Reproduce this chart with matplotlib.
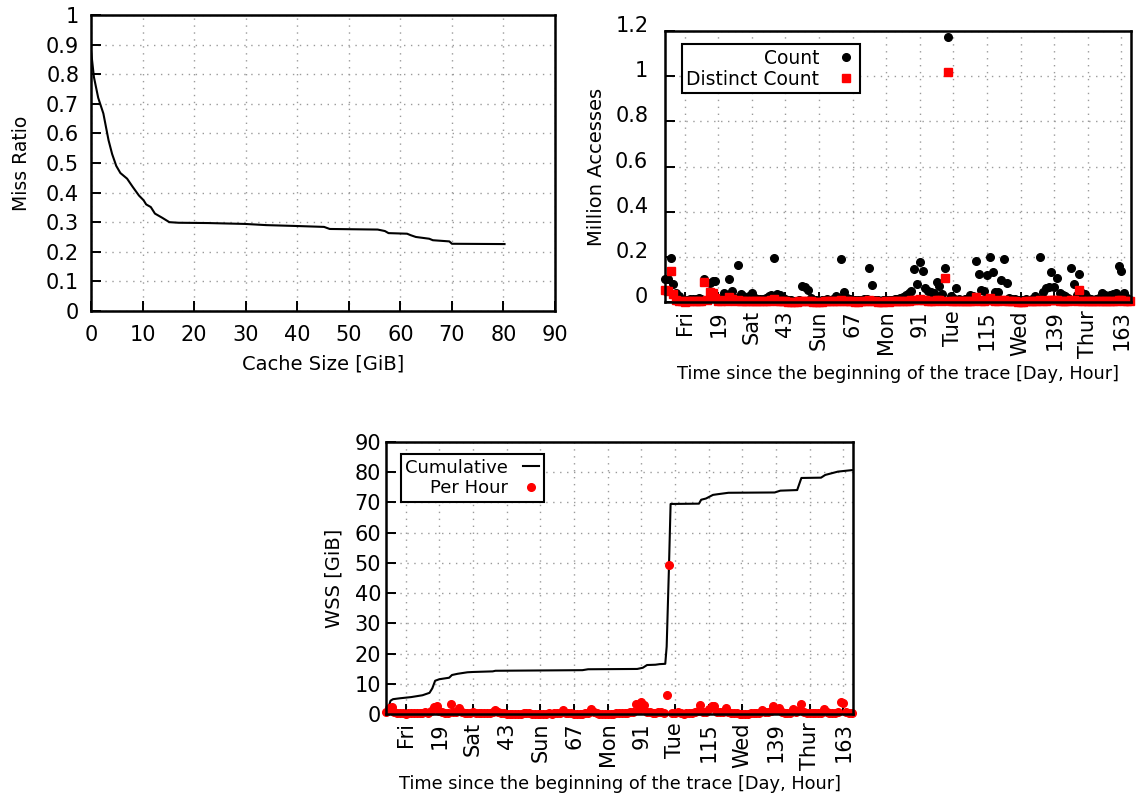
import matplotlib
matplotlib.use("Agg")
import matplotlib.pyplot as plt
from matplotlib.transforms import ScaledTranslation
import numpy as np

plt.rcParams["font.family"] = ["DejaVu Sans"]
plt.rcParams["font.size"] = 14

# --- miss ratio curve (cache size GiB -> miss ratio)
mr_size = [0, 0.57, 1.4, 2.4, 3.4, 4.1, 4.9, 5.7, 7.0, 8.1, 9.3, 10.2, 10.7, 11.6,
           12.4, 13.8, 15.2, 17.0, 22.7, 29.9, 34.0, 39.9, 45.2, 46.3, 55.6, 57.0,
           57.7, 61.3, 62.0, 63.0, 65.6, 66.3, 69.5, 70.0, 80.2]
mr_ratio = [0.88, 0.79, 0.72, 0.667, 0.577, 0.53, 0.49, 0.466, 0.447, 0.419, 0.39,
            0.374, 0.36, 0.351, 0.329, 0.315, 0.30, 0.298, 0.297, 0.294, 0.29, 0.287,
            0.284, 0.277, 0.275, 0.27, 0.263, 0.261, 0.256, 0.25, 0.244, 0.239, 0.235,
            0.227, 0.226]

# --- hourly access counts (million accesses), hour 0..166
count = [
    0.10, 0.10, 0.195, 0.08, 0.04, 0.025, 0.01, 0.005, 0.01, 0.012, 0.015, 0.012,
    0.02, 0.015, 0.10, 0.01, 0.083, 0.093, 0.095, 0.02, 0.015, 0.038, 0.02, 0.103,
    0.049, 0.02, 0.164, 0.035, 0.028, 0.02, 0.025, 0.038, 0.02, 0.015, 0.012, 0.015,
    0.02, 0.025, 0.03, 0.195, 0.034, 0.03, 0.02, 0.012, 0.01, 0.008, 0.006, 0.005,
    0.01, 0.07, 0.068, 0.053, 0.02, 0.01, 0.008, 0.006, 0.008, 0.01, 0.012, 0.01,
    0.015, 0.026, 0.02, 0.19, 0.046, 0.02, 0.015, 0.01, 0.01, 0.008, 0.01, 0.012,
    0.015, 0.149, 0.075, 0.01, 0.008, 0.006, 0.008, 0.01, 0.008, 0.01, 0.012, 0.015,
    0.02, 0.024, 0.03, 0.038, 0.049, 0.145, 0.08, 0.179, 0.139, 0.06, 0.05, 0.046,
    0.038, 0.09, 0.07, 0.034, 0.149, 1.175, 0.028, 0.02, 0.06, 0.015, 0.01, 0.012,
    0.015, 0.03, 0.028, 0.183, 0.124, 0.053, 0.049, 0.12, 0.20, 0.131, 0.046, 0.046,
    0.097, 0.19, 0.083, 0.02, 0.015, 0.012, 0.01, 0.008, 0.01, 0.012, 0.01, 0.015,
    0.028, 0.02, 0.20, 0.046, 0.06, 0.068, 0.131, 0.068, 0.105, 0.038, 0.03, 0.025,
    0.02, 0.152, 0.08, 0.03, 0.123, 0.04, 0.034, 0.02, 0.015, 0.01, 0.015, 0.02,
    0.041, 0.03, 0.025, 0.03, 0.035, 0.04, 0.16, 0.139, 0.04, 0.02, 0.01,
]
distinct = [
    0.053, 0.05, 0.139, 0.035, 0.01, 0.004, 0.003, 0.002, 0.003, 0.004, 0.004, 0.003,
    0.005, 0.004, 0.087, 0.01, 0.043, 0.04, 0.02, 0.005, 0.004, 0.008, 0.005, 0.024,
    0.012, 0.005, 0.01, 0.006, 0.005, 0.004, 0.004, 0.006, 0.004, 0.003, 0.003, 0.003,
    0.004, 0.005, 0.01, 0.012, 0.006, 0.005, 0.004, 0.003, 0.002, 0.002, 0.002, 0.002,
    0.003, 0.005, 0.006, 0.004, 0.003, 0.002, 0.002, 0.002, 0.002, 0.003, 0.003, 0.003,
    0.003, 0.004, 0.004, 0.008, 0.005, 0.004, 0.003, 0.003, 0.002, 0.002, 0.003, 0.003,
    0.004, 0.008, 0.006, 0.003, 0.002, 0.002, 0.002, 0.003, 0.002, 0.003, 0.003, 0.004,
    0.004, 0.005, 0.005, 0.006, 0.007, 0.01, 0.008, 0.012, 0.01, 0.007, 0.006, 0.005,
    0.005, 0.01, 0.008, 0.005, 0.105, 1.02, 0.004, 0.004, 0.006, 0.003, 0.003, 0.003,
    0.003, 0.004, 0.005, 0.023, 0.01, 0.006, 0.006, 0.01, 0.016, 0.01, 0.005, 0.005,
    0.008, 0.01, 0.006, 0.004, 0.003, 0.003, 0.002, 0.002, 0.002, 0.003, 0.003, 0.003,
    0.004, 0.004, 0.008, 0.005, 0.006, 0.007, 0.009, 0.008, 0.01, 0.005, 0.004, 0.004,
    0.004, 0.01, 0.007, 0.004, 0.053, 0.006, 0.005, 0.004, 0.003, 0.003, 0.003, 0.004,
    0.005, 0.004, 0.004, 0.005, 0.005, 0.006, 0.01, 0.009, 0.005, 0.004, 0.003,
]

# --- working set size per hour (GiB), hour 0..166
wss_hour = [
    0.5, 1.9, 2.4, 0.8, 0.3, 0.2, 0.2, 0.1, 0.2, 0.2, 0.3, 0.2,
    0.3, 0.3, 0.6, 0.4, 1.0, 2.4, 2.6, 1.0, 0.5, 0.3, 0.4, 3.4,
    0.6, 0.8, 1.9, 0.6, 0.4, 0.3, 0.4, 0.5, 0.3, 0.2, 0.2, 0.2,
    0.3, 0.4, 0.5, 1.2, 0.5, 0.3, 0.2, 0.1, 0.1, 0.1, 0.1, 0.1,
    0.1, 0.2, 0.3, 0.2, 0.1, 0.1, 0.1, 0.1, 0.1, 0.1, 0.2, 0.1,
    0.2, 0.3, 0.3, 1.2, 0.4, 0.2, 0.2, 0.1, 0.1, 0.1, 0.1, 0.2,
    0.2, 1.5, 0.5, 0.2, 0.1, 0.1, 0.1, 0.1, 0.1, 0.1, 0.2, 0.2,
    0.2, 0.3, 0.4, 0.5, 0.7, 3.3, 1.2, 4.1, 3.0, 0.8, 0.5, 0.4,
    0.4, 0.6, 0.5, 0.3, 6.2, 49.2, 0.3, 0.2, 0.5, 0.2, 0.1, 0.2,
    0.2, 0.4, 0.5, 1.0, 3.1, 0.8, 0.6, 1.5, 2.6, 2.5, 0.6, 0.5,
    0.8, 1.9, 0.6, 0.3, 0.2, 0.2, 0.1, 0.1, 0.1, 0.1, 0.2, 0.2,
    0.3, 0.4, 1.3, 0.6, 0.7, 1.0, 2.7, 1.2, 1.9, 0.6, 0.4, 0.3,
    0.4, 1.8, 0.8, 1.2, 3.2, 0.5, 0.4, 0.3, 0.2, 0.2, 0.3, 0.4,
    1.5, 0.5, 0.4, 0.3, 0.4, 0.6, 4.1, 3.8, 0.5, 0.3, 0.3,
]
hours = np.arange(len(count))

# cumulative WSS breakpoints (hour, GiB)
cum_hour = [0, 1, 1.6, 2.5, 5, 9, 13, 15.5, 16.5, 17.5, 19, 22.5, 23.5, 25.5, 29, 31,
            38, 39, 70, 72, 89.5, 91.5, 93, 96, 97.5, 99.5, 100, 100.8, 101.4, 111.5,
            112.3, 114, 116.5, 118, 122, 138.5, 140.5, 146.5, 148, 155, 156.5, 161, 166]
cum_wss = [0.2, 2.5, 4.4, 4.9, 5.2, 5.6, 6.2, 7.0, 8.5, 11.0, 11.5, 12.0, 12.9, 13.3,
           13.8, 13.9, 14.1, 14.3, 14.5, 14.8, 14.9, 15.3, 16.2, 16.3, 16.5, 16.6, 22.3,
           48.0, 69.5, 69.6, 70.9, 71.3, 72.5, 72.7, 73.2, 73.3, 73.9, 74.1, 78.1, 78.2,
           79.1, 80.2, 80.7]

time_ticks = [7, 19, 31, 43, 55, 67, 79, 91, 103, 115, 127, 139, 151, 163]
time_labels = ["Fri", "19", "Sat", "43", "Sun", "67", "Mon", "91", "Tue", "115",
               "Wed", "139", "Thur", "163"]

GRID = dict(color="#9a9a9a", linestyle=(0, (1, 4)), linewidth=1.0)


def style_axes(ax, ypad):
    for s in ax.spines.values():
        s.set_linewidth(1.8)
        s.set_zorder(3)
    ax.tick_params(direction="in", length=7, width=1.4, top=False, right=False,
                   labelsize=15)
    ax.tick_params(axis="y", pad=ypad)
    ax.grid(True, **GRID)
    ax.set_axisbelow(True)


def right_align_legend(leg):
    for col in leg._legend_handle_box.get_children():
        col.align = "right"
    leg.get_frame().set_linewidth(1.5)
    leg.get_frame().set_edgecolor("black")


fig = plt.figure(figsize=(11.36, 7.99), dpi=100)

# ---- top-left: miss ratio curve
ax1 = fig.add_axes([0.0801, 0.6108, 0.4085, 0.3705])
ax1.plot(mr_size, mr_ratio, color="black", linewidth=1.5)
ax1.set_xlim(0, 90)
ax1.set_ylim(0, 1)
ax1.set_xticks(range(0, 91, 10))
ax1.set_yticks(np.arange(0, 1.01, 0.1))
ax1.set_yticklabels(["0", "0.1", "0.2", "0.3", "0.4", "0.5", "0.6", "0.7", "0.8", "0.9", "1"])
style_axes(ax1, 8.5)
ax1.tick_params(axis="x", pad=10)
ax1.set_xlabel("Cache Size [GiB]", fontsize=14, labelpad=7)
ax1.set_ylabel("Miss Ratio", fontsize=13.5, labelpad=11)

# ---- top-right: hourly accesses
ax2 = fig.add_axes([0.5854, 0.622, 0.4102, 0.3392])
ax2.plot(hours, count, linestyle="none", marker="o", markersize=5.5,
         color="black", label="Count", clip_on=False)
ax2.plot(hours, distinct, linestyle="none", marker="s", markersize=5.2,
         color="red", label="Distinct Count", clip_on=False)
ax2.set_xlim(0, 166.4)
ax2.set_ylim(0, 1.2)
ax2.set_yticks([0, 0.2, 0.4, 0.6, 0.8, 1.0, 1.2])
ax2.set_yticklabels(["0", "0.2", "0.4", "0.6", "0.8", "1", "1.2"])
ax2.set_xticks(time_ticks)
ax2.set_xticklabels(time_labels, rotation=90, va="top", ha="center")
style_axes(ax2, 12)
ax2.tick_params(axis="x", pad=6)
shift_up = ScaledTranslation(0, 7 / 100, fig.dpi_scale_trans)
for lab in ax2.get_yticklabels():
    lab.set_transform(lab.get_transform() + shift_up)
ax2.set_xlabel("Time since the beginning of the trace [Day, Hour]", fontsize=12.8, labelpad=5)
ax2.set_ylabel("Million Accesses", fontsize=14, labelpad=6.5)
leg2 = ax2.legend(loc="upper left", bbox_to_anchor=(0.036, 0.952), borderaxespad=0,
                  markerfirst=False, fancybox=False, framealpha=1, fontsize=13.5,
                  handlelength=1.0, handletextpad=0.9, borderpad=0.25,
                  labelspacing=0.1)
right_align_legend(leg2)

# ---- bottom: working set size
ax3 = fig.add_axes([0.3398, 0.1064, 0.4111, 0.3404])
ax3.plot(cum_hour, cum_wss, color="black", linewidth=1.5, label="Cumulative")
ax3.plot(hours, wss_hour, linestyle="none", marker="o", markersize=5.5,
         color="red", label="Per Hour", clip_on=False)
ax3.set_xlim(0, 166.4)
ax3.set_ylim(0, 90)
ax3.set_yticks(range(0, 91, 10))
ax3.set_xticks(time_ticks)
ax3.set_xticklabels(time_labels, rotation=90, va="top", ha="center")
style_axes(ax3, 3.5)
ax3.tick_params(axis="x", pad=6)
ax3.set_xlabel("Time since the beginning of the trace [Day, Hour]", fontsize=12.8, labelpad=3.5)
ax3.set_ylabel("WSS [GiB]", fontsize=14, labelpad=8)
leg3 = ax3.legend(loc="upper left", bbox_to_anchor=(0.032, 0.955), borderaxespad=0,
                  markerfirst=False, fancybox=False, framealpha=1, fontsize=13,
                  handlelength=0.9, handletextpad=0.8, borderpad=0.25,
                  labelspacing=0.15)
right_align_legend(leg3)

fig.savefig("out.png", dpi=100)
